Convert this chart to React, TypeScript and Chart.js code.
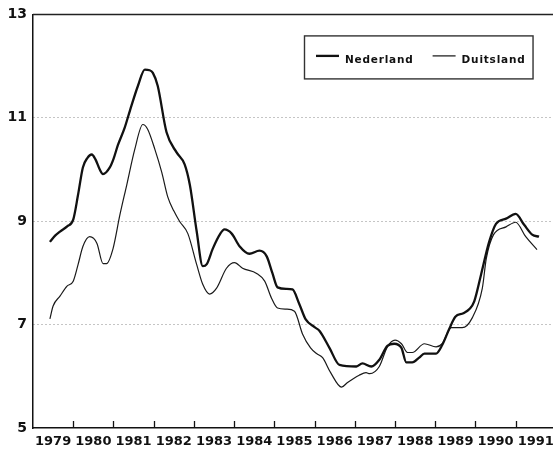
import React, { useEffect, useRef } from 'react';
import { Chart, registerables } from 'chart.js';

Chart.register(...registerables);

// Data (decimal year, rate in %)
const nederlandYears = [
  1979.42, 1979.55, 1979.67, 1979.85, 1980.0, 1980.12, 1980.24, 1980.35, 1980.46, 1980.55,
  1980.66, 1980.74, 1980.91, 1981.0, 1981.11, 1981.28, 1981.41, 1981.61, 1981.78, 1981.9,
  1981.98, 1982.1, 1982.32, 1982.57, 1982.77, 1982.9, 1983.07, 1983.22, 1983.32, 1983.47,
  1983.65, 1983.76, 1983.94, 1984.14, 1984.38, 1984.63, 1984.81, 1984.95, 1985.08, 1985.3,
  1985.45, 1985.62, 1985.78, 1986.0, 1986.12, 1986.37, 1986.62, 1987.04, 1987.19, 1987.41,
  1987.61, 1987.81, 1987.98, 1988.16, 1988.28, 1988.43, 1988.6, 1988.73, 1989.02, 1989.17,
  1989.35, 1989.5, 1989.7, 1989.85, 1989.97, 1990.14, 1990.34, 1990.51, 1990.76, 1991.0,
  1991.21, 1991.41, 1991.58,
];
const nederlandRates = [
  8.6, 8.72, 8.8, 8.9, 9.03, 9.51, 10.04, 10.22, 10.29, 10.2,
  10.0, 9.91, 10.04, 10.2, 10.47, 10.81, 11.14, 11.62, 11.93, 11.92,
  11.87, 11.62, 10.72, 10.33, 10.1, 9.7, 8.8, 8.13, 8.17, 8.47,
  8.75, 8.84, 8.76, 8.51, 8.37, 8.43, 8.32, 8.0, 7.72, 7.69,
  7.68, 7.4, 7.1, 6.95, 6.88, 6.55, 6.22, 6.19, 6.25, 6.19,
  6.32, 6.59, 6.63, 6.55, 6.27, 6.27, 6.36, 6.44, 6.44, 6.6,
  6.92, 7.15, 7.22, 7.3, 7.45, 7.97, 8.6, 8.95, 9.05, 9.14,
  8.93, 8.74, 8.7,
];

const duitslandYears = [
  1979.42, 1979.5, 1979.67, 1979.84, 1980.0, 1980.12, 1980.24, 1980.41, 1980.59, 1980.74,
  1980.83, 1980.99, 1981.16, 1981.33, 1981.53, 1981.73, 1981.85, 1982.03, 1982.2, 1982.35,
  1982.5, 1982.65, 1982.85, 1983.07, 1983.22, 1983.39, 1983.56, 1983.81, 1984.01, 1984.21,
  1984.56, 1984.76, 1984.93, 1985.08, 1985.3, 1985.5, 1985.7, 1985.9, 1986.05, 1986.2,
  1986.4, 1986.67, 1986.82, 1987.11, 1987.28, 1987.37, 1987.61, 1987.81, 1988.0, 1988.16,
  1988.31, 1988.43, 1988.73, 1989.02, 1989.17, 1989.4, 1989.67, 1989.92, 1990.17, 1990.27,
  1990.45, 1990.76, 1991.0, 1991.25, 1991.53,
];
const duitslandRates = [
  7.11, 7.36, 7.55, 7.74, 7.84, 8.16, 8.51, 8.7, 8.57, 8.18,
  8.18, 8.47, 9.12, 9.7, 10.39, 10.87, 10.78, 10.39, 9.95, 9.47,
  9.2, 8.99, 8.76, 8.16, 7.78, 7.59, 7.7, 8.09, 8.2, 8.09,
  7.99, 7.84, 7.51, 7.32, 7.3, 7.26, 6.82, 6.55, 6.44, 6.36,
  6.07, 5.79, 5.88, 6.02, 6.07, 6.05, 6.19, 6.57, 6.7, 6.63,
  6.46, 6.46, 6.63, 6.57, 6.63, 6.94, 6.94, 7.13, 7.7, 8.28,
  8.74, 8.89, 8.98, 8.7, 8.45,
];

const seriesNames = ['Nederland', 'Duitsland'];
const yearLabels = [
  '1979', '1980', '1981', '1982', '1983', '1984', '1985',
  '1986', '1987', '1988', '1989', '1990', '1991',
];
const yTickValues = [5, 7, 9, 11, 13];

const FONT = "'DejaVu Sans', sans-serif";

export default function App() {
  const ref = useRef<HTMLCanvasElement>(null);

  useEffect(() => {
    const canvas = ref.current;
    if (!canvas) return;

    const framePlugin = {
      id: 'frameAndLegend',
      afterDatasetsDraw(chart: any) {
        const { ctx, chartArea: ca, scales } = chart;
        const xs = scales.x;
        ctx.save();
        // top frame line
        ctx.strokeStyle = '#222';
        ctx.lineWidth = 1.5;
        ctx.beginPath();
        ctx.moveTo(ca.left, ca.top);
        ctx.lineTo(ca.right, ca.top);
        ctx.stroke();
        // inner tick marks on x axis at year boundaries
        ctx.lineWidth = 1.3;
        ctx.strokeStyle = '#111';
        for (let i = 1; i < yearLabels.length; i++) {
          const px = Math.round(xs.getPixelForValue(Number(yearLabels[i]))) + 0.5;
          ctx.beginPath();
          ctx.moveTo(px, ca.bottom);
          ctx.lineTo(px, ca.bottom - 7);
          ctx.stroke();
        }
        // legend box
        const lx = ca.left + 271;
        const ly = ca.top + 21;
        const lh = 43;
        ctx.font = `bold 10.5px ${FONT}`;
        try {
          (ctx as any).letterSpacing = '0.8px';
        } catch (e) {
          /* ignore */
        }
        ctx.textBaseline = 'middle';
        ctx.textAlign = 'left';
        ctx.fillStyle = '#111';
        let cx = lx + 12;
        chart.data.datasets.forEach((ds: any) => {
          ctx.strokeStyle = '#111';
          ctx.lineWidth = ds.borderWidth;
          ctx.beginPath();
          ctx.moveTo(cx, ly + 20.5);
          ctx.lineTo(cx + 23, ly + 20.5);
          ctx.stroke();
          ctx.fillText(ds.label, cx + 29, ly + 24.5);
          cx += 29 + ctx.measureText(ds.label).width + 19;
        });
        const lw = cx - 19 + 7 - lx;
        ctx.strokeStyle = '#333';
        ctx.lineWidth = 1.4;
        ctx.strokeRect(lx + 0.5, ly + 0.5, lw, lh);
        ctx.restore();
      },
    };

    const chart = new Chart(canvas, {
      type: 'line',
      data: {
        datasets: [
          {
            label: seriesNames[0],
            data: nederlandYears.map((x, i) => ({ x, y: nederlandRates[i] })),
            borderColor: '#111',
            borderWidth: 2.3,
            pointRadius: 0,
            fill: false,
            cubicInterpolationMode: 'monotone',
          },
          {
            label: seriesNames[1],
            data: duitslandYears.map((x, i) => ({ x, y: duitslandRates[i] })),
            borderColor: '#1a1a1a',
            borderWidth: 1.2,
            pointRadius: 0,
            fill: false,
            cubicInterpolationMode: 'monotone',
          },
        ],
      },
      options: {
        animation: false,
        responsive: false,
        devicePixelRatio: 1,
        layout: { padding: { top: 11, right: 3, left: 0, bottom: 0 } },
        plugins: {
          legend: { display: false },
          tooltip: { enabled: false },
        },
        scales: {
          x: {
            type: 'linear',
            min: 1979,
            max: 1992,
            afterBuildTicks: (s: any) => {
              s.ticks = yearLabels.map((l) => ({ value: Number(l) + 0.5 }));
            },
            afterFit: (s: any) => {
              s.height = 26;
            },
            grid: { display: false, drawTicks: false },
            border: { display: true, color: '#111', width: 1.5 },
            ticks: {
              autoSkip: false,
              maxRotation: 0,
              minRotation: 0,
              padding: 6,
              color: '#111',
              font: { family: FONT, size: 13, weight: 'bold' },
              callback: (_v: any, i: number) => yearLabels[i],
            },
          },
          y: {
            type: 'linear',
            min: 5,
            max: 13,
            afterBuildTicks: (s: any) => {
              s.ticks = yTickValues.map((v) => ({ value: v }));
            },
            afterFit: (s: any) => {
              s.width = 33;
            },
            grid: {
              drawTicks: false,
              lineWidth: 1,
              color: (c: any) =>
                c.tick && c.tick.value > 5 && c.tick.value < 13 ? '#8a8a8a' : 'rgba(0,0,0,0)',
            },
            border: { display: true, color: '#111', width: 1.5, dash: [1, 3] },
            ticks: {
              padding: 6,
              color: '#111',
              font: { family: FONT, size: 14, weight: 'bold' },
            },
          },
        },
      },
      plugins: [framePlugin],
    } as any);

    return () => chart.destroy();
  }, []);

  return (
    <div
      style={{
        position: 'fixed',
        left: 0,
        top: 0,
        width: 553,
        height: 454,
        overflow: 'hidden',
        background: '#fff',
      }}
    >
      <canvas ref={ref} width={560} height={454} style={{ display: 'block', width: 560, height: 454 }} />
    </div>
  );
}
